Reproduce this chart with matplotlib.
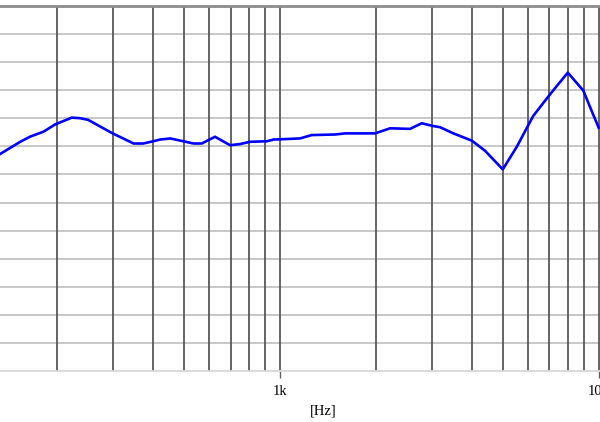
import matplotlib
matplotlib.use("Agg")
import matplotlib.pyplot as plt
from matplotlib.ticker import FixedLocator, NullFormatter

# frequency response
freq = [132, 153, 164, 181, 197, 222, 236, 250, 296, 347, 372, 400, 420, 452,
        497, 535, 568, 625, 697, 749, 805, 909, 953, 1155, 1257, 1488, 1600,
        1987, 2214, 2558, 2784, 3027, 3177, 3499, 4000, 4400, 5000, 5530,
        6230, 6870, 7380, 8000, 8950, 9390, 10000]
level = [73.6, 75.8, 76.7, 77.6, 78.9, 80.1, 80.0, 79.7, 77.4, 75.5, 75.5,
         75.9, 76.2, 76.4, 75.9, 75.5, 75.5, 76.7, 75.2, 75.4, 75.8, 75.9,
         76.2, 76.4, 77.0, 77.1, 77.3, 77.3, 78.2, 78.1, 79.1, 78.6, 78.4,
         77.3, 76.0, 74.2, 70.9, 74.9, 80.4, 83.5, 85.7, 88.1, 84.9, 82.0,
         78.3]

grid_freq = [200, 300, 400, 500, 600, 700, 800, 900, 1000,
             2000, 3000, 4000, 5000, 6000, 7000, 8000, 9000, 10000]
grid_db = list(range(35, 101, 5))
tick_freq = [1000, 10000]
tick_text = ["1k", "10k"]

fig = plt.figure(figsize=(6, 4.22), dpi=100)
ax = fig.add_axes([0, 1 - 371.3 / 422, 1, (371.3 - 5.7) / 422])

# grid
for d in grid_db[1:-1]:
    ax.axhline(d, color="#c4c4c4", lw=1.3, zorder=1)
for f in grid_freq:
    ax.axvline(f, color="#525252", lw=1.25, zorder=1)

ax.plot(freq, level, color="#0000ff", lw=1.9, zorder=3)

ax.set_xscale("log")
ax.set_xlim(132.2, 10094)
ax.set_ylim(35, 100)

for s in ax.spines.values():
    s.set_visible(False)
ax.axhline(100, color="#8c8c8c", lw=2.0, zorder=2, clip_on=False)
ax.axhline(35, color="#d8d8d8", lw=1.3, zorder=2, clip_on=False)

ax.xaxis.set_major_locator(FixedLocator(tick_freq))
ax.xaxis.set_minor_locator(FixedLocator([]))
ax.xaxis.set_minor_formatter(NullFormatter())
ax.set_xticklabels(tick_text, family="Liberation Serif", fontsize=10.5)
ax.tick_params(axis="x", length=5, width=1, color="#606060", pad=5)
ax.set_yticks([])
ax.set_xlabel("[Hz]", family="Liberation Serif", fontsize=10.5)
ax.xaxis.set_label_coords(323 / 600, -(411 - 371.3) / 365.6)
ax.xaxis.label.set_va("center")

fig.savefig("out.png", dpi=100)
